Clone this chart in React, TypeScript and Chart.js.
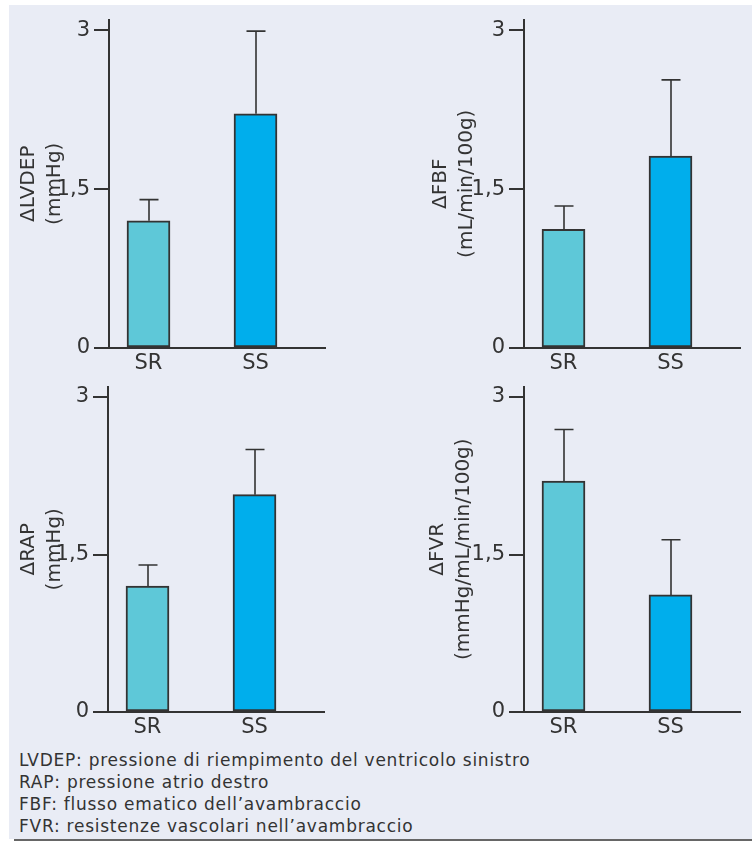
import React, { useEffect, useRef } from 'react';
import { Chart, registerables } from 'chart.js';

Chart.register(...registerables);

// ---- data ----
const categories = ['SR', 'SS'];
const yTickValues = [0, 1.5, 3];
const yTickLabels = ['0', '1,5', '3'];

const lvdepMeans = [1.2, 2.21];
const lvdepUpper = [1.4, 2.99];
const fbfMeans = [1.12, 1.81];
const fbfUpper = [1.34, 2.53];
const rapMeans = [1.2, 2.07];
const rapUpper = [1.4, 2.5];
const fvrMeans = [2.2, 1.115];
const fvrUpper = [2.69, 1.64];

const lvdepTitle = ['ΔLVDEP', '(mmHg)'];
const fbfTitle = ['ΔFBF', '(mL/min/100g)'];
const rapTitle = ['ΔRAP', '(mmHg)'];
const fvrTitle = ['ΔFVR', '(mmHg/mL/min/100g)'];

const footnotes = [
  'LVDEP: pressione di riempimento del ventricolo sinistro',
  'RAP: pressione atrio destro',
  'FBF: flusso ematico dell’avambraccio',
  'FVR: resistenze vascolari nell’avambraccio',
];

// ---- styles ----
const FONT = "'DejaVu Sans', Verdana, sans-serif";
const INK = '#333333';
const barColors = ['#5ec8d8', '#00aeec'];
const BG = '#e9ecf5';

type Box = {
  left: number;
  top: number;
  width: number;
  height: number;
  yAxisWidth: number;
  padTop: number;
  padRight: number;
  xAxisHeight: number;
  titlePad: number;
};

const boxes: Box[] = [
  { left: 9, top: 5, width: 367, height: 365, yAxisWidth: 100, padTop: 13, padRight: 51, xAxisHeight: 22, titlePad: 7 },
  { left: 376, top: 5, width: 376, height: 365, yAxisWidth: 148, padTop: 13, padRight: 12, xAxisHeight: 22, titlePad: 52 },
  { left: 9, top: 372, width: 367, height: 368, yAxisWidth: 99, padTop: 11, padRight: 52, xAxisHeight: 28, titlePad: 7 },
  { left: 376, top: 372, width: 376, height: 368, yAxisWidth: 148, padTop: 11, padRight: 12, xAxisHeight: 28, titlePad: 49 },
];

function Panel({ means, upper, title, box }: { means: number[]; upper: number[]; title: string[]; box: Box }) {
  const ref = useRef<HTMLCanvasElement>(null);
  useEffect(() => {
    if (!ref.current) return;
    const errorBars = {
      id: 'errorBars',
      afterDatasetsDraw(chart: any) {
        const ctx = chart.ctx;
        const meta = chart.getDatasetMeta(0);
        const ys = chart.scales.y;
        ctx.save();
        ctx.strokeStyle = INK;
        ctx.lineWidth = 1.6;
        meta.data.forEach((el: any, i: number) => {
          const x = Math.round(el.x);
          const yb = el.y;
          const yt = ys.getPixelForValue(upper[i]);
          ctx.beginPath();
          ctx.moveTo(x, yb);
          ctx.lineTo(x, yt);
          ctx.moveTo(x - 9.5, yt);
          ctx.lineTo(x + 9.5, yt);
          ctx.stroke();
        });
        ctx.restore();
      },
    };
    const chart = new Chart(ref.current, {
      type: 'bar',
      data: {
        datasets: [
          {
            data: means.map((v, i) => ({ x: i + 1, y: v })),
            backgroundColor: barColors,
            borderColor: INK,
            borderWidth: 2,
            barThickness: 43,
            borderSkipped: false,
          } as any,
        ],
      },
      options: {
        animation: false,
        responsive: false,
        maintainAspectRatio: false,
        layout: { padding: { left: 0, top: box.padTop, right: box.padRight, bottom: 0 } },
        plugins: { legend: { display: false }, tooltip: { enabled: false } },
        scales: {
          x: {
            type: 'linear',
            min: 1 - 39.5 / 107,
            max: 2 + 69.5 / 107,
            offset: false,
            afterBuildTicks: (s: any) => {
              s.ticks = categories.map((_, i) => ({ value: i + 1 }));
            },
            afterFit: (s: any) => {
              s.height = box.xAxisHeight;
            },
            ticks: {
              callback: (_v: any, i: number) => categories[i],
              font: { family: FONT, size: 21, lineHeight: 1.2 },
              color: INK,
              padding: 3,
              autoSkip: false,
              maxRotation: 0,
            },
            grid: { display: false, drawTicks: false },
            border: { display: true, color: INK, width: 2 },
          },
          y: {
            type: 'linear',
            min: 0,
            max: 3.1,
            afterBuildTicks: (s: any) => {
              s.ticks = yTickValues.map((v) => ({ value: v }));
            },
            afterFit: (s: any) => {
              s.width = box.yAxisWidth;
            },
            ticks: {
              callback: (_v: any, i: number) => yTickLabels[i],
              font: { family: FONT, size: 21, lineHeight: 1 },
              color: INK,
              padding: 4,
            },
            grid: { drawOnChartArea: false, drawTicks: true, tickLength: 15, color: INK, lineWidth: 2 },
            border: { display: true, color: INK, width: 2 },
            title: {
              display: true,
              text: title,
              font: { family: FONT, size: 20, lineHeight: '26px' },
              color: INK,
              padding: { top: box.titlePad, bottom: 0 },
            },
          },
        },
      } as any,
      plugins: [errorBars],
    });
    return () => chart.destroy();
  }, []);
  return (
    <canvas
      ref={ref}
      width={box.width}
      height={box.height}
      style={{ position: 'absolute', left: box.left, top: box.top, width: box.width, height: box.height, display: 'block' }}
    />
  );
}

export default function App() {
  return (
    <div style={{ position: 'absolute', left: 0, top: 0, width: 752, height: 842, background: '#ffffff', overflow: 'hidden' }}>
      <div style={{ position: 'absolute', left: 9, top: 5, width: 743, height: 834, background: BG }} />
      <Panel means={lvdepMeans} upper={lvdepUpper} title={lvdepTitle} box={boxes[0]} />
      <Panel means={fbfMeans} upper={fbfUpper} title={fbfTitle} box={boxes[1]} />
      <Panel means={rapMeans} upper={rapUpper} title={rapTitle} box={boxes[2]} />
      <Panel means={fvrMeans} upper={fvrUpper} title={fvrTitle} box={boxes[3]} />
      <div
        style={{
          position: 'absolute',
          left: 19,
          top: 749,
          fontFamily: FONT,
          fontSize: 17,
          lineHeight: '22px',
          letterSpacing: '0.75px',
          color: INK,
          whiteSpace: 'nowrap',
        }}
      >
        {footnotes.map((t) => (
          <div key={t}>{t}</div>
        ))}
      </div>
      <div style={{ position: 'absolute', left: 14, top: 839, width: 738, height: 2, background: '#666666' }} />
    </div>
  );
}
